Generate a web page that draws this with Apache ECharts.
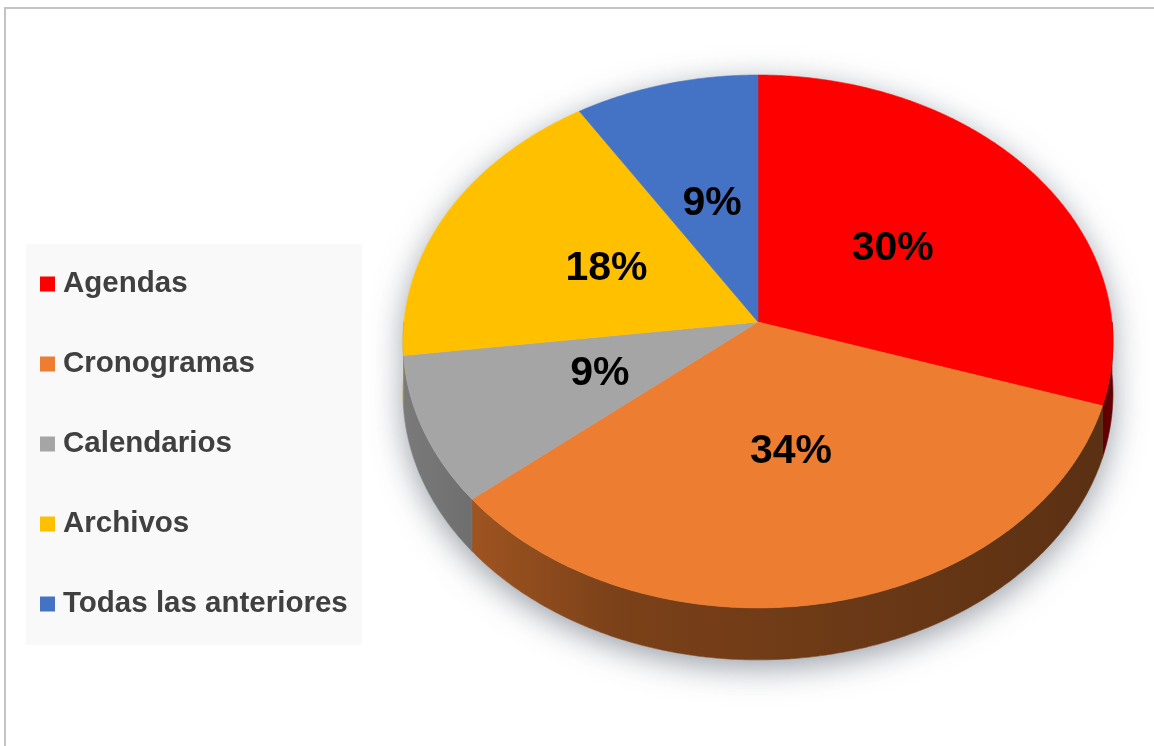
<!DOCTYPE html>
<html>
<head>
<meta charset="utf-8">
<title>Herramientas de planificación</title>
<script src="https://cdn.jsdelivr.net/npm/echarts@6/dist/echarts.min.js"></script>
<style>
  html, body { margin: 0; padding: 0; background: #ffffff; }
  #chart { width: 1154px; height: 746px; }
</style>
</head>
<body>
<div id="chart"></div>
<script>
// Categories and their shares (percent)
const categories = ['Agendas', 'Cronogramas', 'Calendarios', 'Archivos', 'Todas las anteriores'];
const percents = [30, 34, 9, 18, 9];
const sliceColors = ['#ff0000', '#ed7d31', '#a5a5a5', '#ffc000', '#4472c4'];

// Tilted-disc geometry (pixels) for the perspective pie
const PIE = { cx: 758, cy: 322, rx: 354, ry: 265, tilt: 0.073, depth: 52, labelAt: 0.48 };
const TAU = Math.PI * 2;
const total = percents.reduce((a, b) => a + b, 0);
const FONT = '"Liberation Sans", Arial, Helvetica, sans-serif';

// Project a point of the unit disc (radius r, angle clockwise from 12 o'clock)
function project(r, ang) {
  const c = Math.cos(ang), s = Math.sin(ang);
  const w = 1 + PIE.tilt * r * c;
  return [PIE.cx + PIE.rx * r * s / w, PIE.cy - PIE.ry * r * c / w];
}

function rimPoints(a0, a1, dy) {
  const n = Math.max(2, Math.ceil(Math.abs(a1 - a0) / (Math.PI / 360)));
  const pts = [];
  for (let k = 0; k <= n; k++) {
    const p = project(1, a0 + (a1 - a0) * k / n);
    pts.push([p[0], p[1] + dy]);
  }
  return pts;
}

function shade(hex, f) {
  const n = parseInt(hex.slice(1), 16);
  const r = Math.round(((n >> 16) & 255) * f);
  const g = Math.round(((n >> 8) & 255) * f);
  const b = Math.round((n & 255) * f);
  return 'rgb(' + r + ',' + g + ',' + b + ')';
}

function wallFill(hex) {
  return {
    type: 'linear', global: true,
    x: PIE.cx - PIE.rx, y: 0, x2: PIE.cx + PIE.rx, y2: 0,
    colorStops: [
      { offset: 0, color: shade(hex, 0.74) },
      { offset: 0.3, color: shade(hex, 0.52) },
      { offset: 1, color: shade(hex, 0.38) }
    ]
  };
}

function makeSlice(i) {
  return function (params, api) {
    const v = api.value(0);
    let before = 0;
    for (let j = 0; j < i; j++) before += percents[j];
    const a0 = before / total * TAU;
    const a1 = (before + v) / total * TAU;
    const color = sliceColors[i];
    const children = [];

    if (i === 0) {
      // soft drop shadow under the whole disc
      const outline = rimPoints(Math.PI / 2, -Math.PI / 2, 0)
        .concat(rimPoints(Math.PI * 1.5, Math.PI / 2, PIE.depth));
      children.push({
        type: 'polygon', z2: 0,
        shape: { points: outline },
        style: {
          fill: '#ffffff',
          shadowBlur: 32, shadowColor: 'rgba(70,80,95,0.55)', shadowOffsetY: 8
        }
      });
    }

    // visible side wall (front half of the disc)
    const b0 = Math.max(a0, Math.PI / 2);
    const b1 = Math.min(a1, Math.PI * 1.5);
    if (b1 > b0) {
      const wall = rimPoints(b0, b1, 0).concat(rimPoints(b1, b0, PIE.depth));
      const wf = wallFill(color);
      children.push({
        type: 'polygon', z2: 1,
        shape: { points: wall },
        style: { fill: wf, stroke: wf, lineWidth: 0.6 }
      });
    }

    // top face
    const top = [project(0, 0)].concat(rimPoints(a0, a1, 0));
    children.push({
      type: 'polygon', z2: 2,
      shape: { points: top },
      style: { fill: color, stroke: color, lineWidth: 0.6 }
    });

    // percentage label
    const lp = project(PIE.labelAt, (a0 + a1) / 2);
    children.push({
      type: 'text', z2: 3,
      x: lp[0], y: lp[1],
      style: {
        text: v + '%',
        fontSize: 41, fontWeight: 'bold', fontFamily: FONT,
        fill: '#000000', align: 'center', verticalAlign: 'middle'
      }
    });

    return { type: 'group', children: children };
  };
}

const chart = echarts.init(document.getElementById('chart'), null, { renderer: 'canvas' });

chart.setOption({
  backgroundColor: '#ffffff',
  animation: false,
  graphic: [
    { type: 'rect', z: 0, shape: { x: 26, y: 244, width: 336, height: 401 }, style: { fill: '#f9f9f9' } },
    { type: 'line', z: 0, shape: { x1: 4, y1: 8, x2: 1154, y2: 8 }, style: { stroke: '#c4c4c4', lineWidth: 2 } },
    { type: 'line', z: 0, shape: { x1: 5, y1: 7, x2: 5, y2: 746 }, style: { stroke: '#c4c4c4', lineWidth: 2 } }
  ],
  legend: {
    orient: 'vertical',
    left: 40,
    top: 269,
    padding: 0,
    icon: 'rect',
    itemWidth: 15,
    itemHeight: 15,
    itemGap: 50,
    selectedMode: false,
    data: categories,
    textStyle: {
      fontSize: 29.5, fontWeight: 'bold', fontFamily: FONT,
      color: '#404040', lineHeight: 30, padding: [0, 0, 0, 3]
    }
  },
  series: categories.map((name, i) => ({
    type: 'custom',
    name: name,
    coordinateSystem: 'none',
    silent: true,
    itemStyle: { color: sliceColors[i] },
    data: [[percents[i]]],
    renderItem: makeSlice(i)
  }))
});
</script>
</body>
</html>
